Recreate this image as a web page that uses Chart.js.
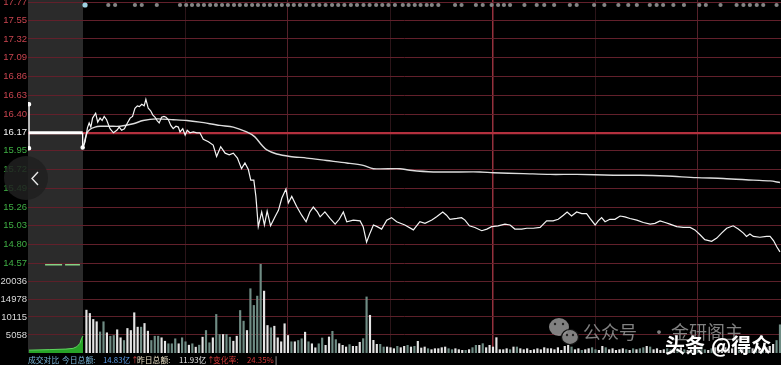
<!DOCTYPE html>
<html><head><meta charset="utf-8">
<script src="https://cdn.jsdelivr.net/npm/chart.js@4.4.0/dist/chart.umd.min.js"></script>
<style>html,body{margin:0;padding:0;background:#000;overflow:hidden}canvas{display:block}</style>
</head><body>
<canvas id="c" width="781" height="365"></canvas>
<script>
// ---------------- data ----------------
const prevClose = 16.17;
const priceTicks = [14.57,14.80,15.03,15.26,15.49,15.72,15.95,16.17,16.40,16.63,16.86,17.09,17.32,17.55,17.77];
const volumeTicks = [5058,10115,14978,20036];
const timeMarks = [30,60,90,120,150,180];           // minutes after 9:30
const auctionEndMinute = 0;

const priceMinutes = [0.1,0.6,1.3,1.8,2.3,2.8,3.7,4.3,5.0,5.6,
6.2,6.9,7.9,8.9,9.9,10.6,11.3,12.1,13.0,13.8,
14.5,15.2,15.9,16.5,17.2,17.9,18.4,19.1,19.8,20.4,
21.1,21.7,22.3,23.0,23.7,24.3,25.0,25.7,26.4,27.2,
27.9,28.4,29.2,29.9,30.5,31.3,32.3,33.3,34.2,
35.2,36.7,38.1,39.1,40.3,41.6,42.8,44.0,45.2,46.4,
47.4,48.4,49.1,50.0,50.6,51.3,52.3,53.1,53.9,54.9,
56.2,57.2,58.2,59.4,60.1,61.1,62.5,64.0,65.3,66.4,
67.4,68.6,69.4,70.8,72.3,73.8,75.0,76.2,77.2,79.1,
81.1,82.0,83.0,84.0,85.0,86.1,87.4,88.9,90.3,91.8,
94.2,96.7,98.6,100.1,102.1,103.5,105.3,106.4,107.4,109.4,
110.8,111.8,113.1,114.7,116.7,118.2,119.6,121.5,123.5,125.0,
126.4,128.4,129.9,131.8,133.8,135.7,137.6,139.1,140.6,141.7,
143.0,144.5,146.0,147.4,
148.4,149.9,150.8,151.8,152.8,154.2,155.7,157.2,158.6,160.1,
162.1,164.0,166.0,167.4,168.9,170.4,171.8,173.8,175.7,177.7,
179.1,180.6,182.0,184.0,185.5,186.9,188.4,190.3,191.8,193.3,
194.2,195.2,196.2,198.1,200.1,201.1,202.1,203.1,204.0];
const priceValues = [16.00,16.06,16.23,16.29,16.24,16.35,16.41,16.30,16.35,16.32,
16.37,16.33,16.22,16.17,16.20,16.24,16.20,16.22,16.29,16.35,
16.37,16.47,16.50,16.49,16.52,16.50,16.58,16.47,16.44,16.39,
16.36,16.32,16.29,16.36,16.37,16.36,16.33,16.26,16.22,16.25,
16.24,16.18,16.22,16.14,16.20,16.17,16.18,16.17,16.17,
16.09,16.06,16.02,15.88,16.00,15.92,15.90,15.92,15.86,15.73,
15.80,15.72,15.59,15.59,15.39,15.02,15.20,15.04,15.21,15.03,
15.14,15.22,15.37,15.48,15.31,15.39,15.27,15.16,15.08,15.20,
15.26,15.20,15.14,15.20,15.12,15.05,15.11,15.20,15.08,15.10,
15.09,15.02,14.83,14.94,15.04,15.02,14.99,15.10,15.13,15.08,
15.04,14.98,15.08,15.06,15.10,15.14,15.20,15.16,15.11,15.12,
15.13,15.10,15.03,15.01,14.97,14.99,15.02,15.03,15.05,15.04,
14.99,14.99,15.00,15.00,15.01,15.09,15.09,15.11,15.16,15.20,
15.15,15.20,15.18,15.18,
15.12,15.04,15.09,15.13,15.08,15.11,15.11,15.15,15.14,15.12,
15.10,15.07,15.05,15.06,15.09,15.07,15.05,15.02,15.01,15.01,
14.98,14.92,14.86,14.84,14.88,14.94,15.00,15.03,14.99,14.94,
14.90,14.93,14.90,14.89,14.90,14.90,14.85,14.77,14.71];

const avgMinutes = [0,1.1,2.0,3.5,5.0,7.9,10.8,14.7,17.6,21.6,
26.4,30.4,34.2,40.1,44.0,47.9,50.3,52.3,53.8,56.7,
60.6,65.5,71.3,77.2,82.0,85.0,92.8,95.7,102.5,116.2,
120.1,128.9,136.7,144.5,155.2,163.0,170.8,179.6,187.4,196.2,
201.1,204.0];
const avgValues = [15.99,16.16,16.21,16.24,16.25,16.25,16.25,16.28,16.32,16.34,
16.33,16.32,16.30,16.26,16.24,16.18,16.12,16.02,15.96,15.91,
15.88,15.86,15.83,15.80,15.77,15.73,15.73,15.71,15.69,15.69,
15.68,15.67,15.66,15.66,15.65,15.65,15.64,15.62,15.61,15.59,
15.58,15.56];

const volumeStartMinute = 1;
const volumeValues = [12000,11080,9400,8750,5900,8750,5660,4700,4900,6500,
4260,3500,6870,6300,11270,7240,7240,8270,6120,3500,
4700,4700,4260,3300,2580,2580,3980,2580,4260,3140,
2190,2580,1630,2190,4430,6300,2860,4260,10800,5190,
5190,5190,4430,3300,4700,11900,8920,6300,18000,13320,
15930,25100,17330,7700,7070,7500,4260,3140,8190,4900,
3140,3140,3500,3980,5830,3140,2580,1460,2580,
4200,2150,4490,6080,3740,2620,2150,1680,2340,1870,
1870,3000,4020,15700,10560,3550,2430,2430,1680,1680,
1500,1210,1870,1500,1870,2150,1680,1870,3270,1400,
1680,1210,935,1210,1210,1500,1680,1210,935,1210,
935,750,750,935,1500,2150,2150,2620,1500,2150,
1680,4300,935,935,1210,935,1680,1680,1210,935,
1210,750,935,1210,935,1500,1210,
1210,935,1500,750,1870,2150,1680,935,1210,750,
935,1210,1500,935,750,1870,1500,935,1210,750,
935,1210,935,750,1210,935,1210,1500,1870,1680,
935,1210,750,935,1210,935,750,1210,1500,935,
750,935,1210,1500,1870,935,750,1210,1500,935,
1210,1500,935,1210,1680,935,1210,1500,935,1210,
1500,1210,935,1500,1870,2430,3500,7900];

// call-auction segment (before 9:30)
const auctionMinutes = [-15.8,-15.8,-15.8,-0.1,-0.1];
const auctionPrices  = [16.52,15.98,16.17,16.17,15.99];
const auctionVolMinutes = [-15.8,-9.7,-5.0,-2.9,-1.8,-0.9,-0.4,0.0];
const auctionVolValues  = [800,950,1100,1300,1760,2700,4100,4760];
const auctionDashMinutes = [-11.1,-0.9];
const auctionDashValues  = [24700,24700];

// event markers along the top strip
const eventMinutes = [0.6,7.4,9.4,15.2,17.2,21.6,
28.4,30.2,31.9,33.7,35.4,37.2,38.9,40.7,42.4,44.2,45.9,47.7,49.5,51.2,53.0,54.7,56.5,58.2,60.0,61.7,63.5,65.3,
67.4,69.2,71.0,72.9,74.7,76.5,78.4,80.2,82.1,83.9,85.8,87.6,89.4,91.3,
93.6,95.3,97.1,98.8,100.6,102.1,104.0,108.9,110.8,115.0,117.0,119.6,121.5,123.2,125.0,129.2,
132.8,135.0,137.9,142.5,144.5,149.6,152.6,156.7,159.6,162.1,165.9,167.9,169.8,172.8,175.9,
180.4,182.3,186.6,191.3,193.3,195.2,197.2,199.1,203.0];

// ---------------- helpers ----------------
const xy = (xs, ys) => xs.map((v,i)=>({x:v, y:ys[i]}));
function priceAt(m){
  let p = priceValues[0];
  for (let i=0;i<priceMinutes.length;i++){ if (priceMinutes[i] <= m) p = priceValues[i]; else break; }
  return p;
}
const volumePoints = volumeValues.map((v,i)=>({x: volumeStartMinute+i, y: v}));
const volumeColors = volumePoints.map(p => priceAt(p.x) >= priceAt(p.x-1) ? '#e4e4e4' : '#6f8c84');

const AXISFONT = "'Liberation Sans',Arial,sans-serif";
const CJK = "'Noto Sans CJK SC','Noto Sans',sans-serif";
const tv = c => (c && c.tick) ? c.tick.value : NaN;

// ---------------- plugins ----------------
const bgPlugin = {
  id:'bg',
  beforeDraw(chart){
    const {ctx, chartArea:a, scales:{x}} = chart;
    ctx.save();
    ctx.fillStyle = '#000';
    ctx.fillRect(0,0,chart.width,chart.height);
    const xe = x.getPixelForValue(auctionEndMinute);
    ctx.fillStyle = '#2b2b2b';
    ctx.fillRect(a.left, a.top, xe - a.left, a.bottom - a.top);
    ctx.restore();
  }
};
const eventPlugin = {
  id:'events',
  afterDatasetsDraw(chart){
    const {ctx, scales:{x}} = chart;
    ctx.save();
    eventMinutes.forEach((m,i)=>{
      const px = x.getPixelForValue(m);
      ctx.beginPath();
      ctx.fillStyle = i===0 ? '#9fd2e2' : '#858585';
      ctx.arc(px, 5, i===0 ? 2.6 : 2.1, 0, Math.PI*2);
      ctx.fill();
    });
    ctx.restore();
  }
};
const overlayPlugin = {
  id:'overlay',
  afterDraw(chart){
    const ctx = chart.ctx;
    ctx.save();
    // side navigation button
    ctx.beginPath();
    ctx.arc(26,178,22,0,Math.PI*2);
    ctx.fillStyle = 'rgba(32,32,32,0.85)';
    ctx.fill();
    ctx.strokeStyle = '#e8e8e8'; ctx.lineWidth = 1.4;
    ctx.beginPath(); ctx.moveTo(38,172); ctx.lineTo(32,178.5); ctx.lineTo(38,185); ctx.stroke();

    // bottom info strip
    ctx.textBaseline = 'middle';
    ctx.font = '7.8px ' + CJK;
    const segs = [
      ['成交对比',28,'#78b4d8'],['今日总额:',62,'#78b4d8'],['14.83亿',103,'#5a9ce8'],['↑',131,'#d04040'],
      ['昨日总额:',137,'#e6dcc0'],['11.93亿',179,'#e8e8e8'],['↑',207,'#d04040'],
      ['变化率:',213,'#d03838'],['24.35%',247,'#d03838'],['|',275,'#e0e0e0']
    ];
    segs.forEach(s=>{ ctx.fillStyle = s[2]; ctx.fillText(s[0], s[1], 360); });

    // watermark
    ctx.fillStyle = 'rgba(150,150,150,0.85)';
    ctx.beginPath(); ctx.ellipse(559,327,10,9,0,0,Math.PI*2); ctx.fill();
    ctx.strokeStyle = '#111'; ctx.lineWidth = 1.2;
    ctx.beginPath(); ctx.ellipse(570,337,8.5,7.5,0,0,Math.PI*2); ctx.fill(); ctx.stroke();
    ctx.fillStyle = '#222';
    [[555,324],[563,324],[567,335],[573,335]].forEach(p=>{ctx.beginPath();ctx.arc(p[0],p[1],1.2,0,Math.PI*2);ctx.fill();});
    ctx.font = '18px ' + CJK;
    ctx.fillStyle = 'rgba(150,150,150,0.85)';
    ctx.fillText('公众号', 583, 332);
    ctx.fillText('·', 650, 332);
    ctx.fillText('金研阁主', 671, 332);
    ctx.font = 'bold 20px ' + CJK;
    ctx.fillStyle = '#ffffff';
    ctx.shadowColor = 'rgba(0,0,0,0.8)'; ctx.shadowBlur = 2;
    ctx.fillText('头条', 665, 345);
    ctx.fillText('@得众', 711, 345);
    ctx.restore();
  }
};

// ---------------- chart ----------------
const gridPrice = v => v === prevClose ? '#b3303e' : '#62202b';
const xGridColor = v => v === 120 ? '#93303c' : (v % 60 === 0 ? '#55212a' : '#2c1519');

new Chart(document.getElementById('c'), {
  type: 'line',
  data: {
    datasets: [
      { label:'均价', data: xy(avgMinutes, avgValues), yAxisID:'yP', borderColor:'#dcdcdc', borderWidth:1.4, pointRadius:0, tension:0.3, order:3 },
      { label:'价格', data: xy(priceMinutes, priceValues), yAxisID:'yP', borderColor:'#f4f4f4', borderWidth:1.2, pointRadius:0, tension:0, order:2 },
      { label:'集合竞价', data: xy(auctionMinutes, auctionPrices), yAxisID:'yP', borderColor:'#ffffff', backgroundColor:'#ffffff',
        pointRadius:[1.6,1.6,0,0,1.6], borderWidth:1.3,
        segment:{ borderWidth: c => c.p0.parsed.y === c.p1.parsed.y ? 3 : 1.3 }, order:1 },
      { label:'竞价量', data: xy(auctionVolMinutes, auctionVolValues), yAxisID:'yV', borderColor:'#5fd45f', backgroundColor:'#27a327',
        fill:'origin', pointRadius:0, borderWidth:1, order:4 },
      { label:'竞价未匹配', data: xy(auctionDashMinutes, auctionDashValues), yAxisID:'yV', borderColor:'#86d286', borderDash:[17,3],
        pointRadius:0, borderWidth:1.4, order:4 },
      { type:'bar', label:'成交量', data: volumePoints, yAxisID:'yV', backgroundColor: volumeColors, barThickness:1.5, grouped:false, order:5 }
    ]
  },
  options: {
    responsive:false, animation:false, devicePixelRatio:1,
    layout:{ autoPadding:false, padding:{ top:0, left:0, right:0, bottom:12 } },
    plugins:{ legend:{display:false}, tooltip:{enabled:false} },
    scales:{
      x:{ type:'linear', min:-16.1, max:204.3, offset:false,
        border:{display:false},
        ticks:{display:false},
        grid:{ offset:false, drawTicks:false, color: c => xGridColor(tv(c)), lineWidth: c => tv(c) === 120 ? 1.5 : 1 },
        afterBuildTicks: s => { s.ticks = timeMarks.map(v=>({value:v})); },
        afterFit: s => { s.height = 0; s.paddingLeft = 0; s.paddingRight = 0; }
      },
      yP:{ position:'left', stack:'left', stackWeight:264, weight:1, min:14.562, max:17.797,
        border:{display:false},
        grid:{ drawTicks:false, color: c => gridPrice(tv(c)), lineWidth: c => tv(c) === prevClose ? 2.2 : 1 },
        ticks:{ autoSkip:false, padding:1, font:{family:AXISFONT, size:9.5},
          color: c => tv(c) > prevClose ? '#c8444f' : (tv(c) < prevClose ? '#3fae44' : '#f2f2f2'),
          callback: v => Number(v).toFixed(2) },
        afterBuildTicks: s => { s.ticks = priceTicks.map(v=>({value:v})); },
        afterFit: s => { s.width = 28; s.paddingTop = 0; s.paddingBottom = 0; }
      },
      yV:{ position:'left', stack:'left', stackWeight:89, weight:0, min:0, max:24920,
        border:{display:false},
        grid:{ drawTicks:false, color:'#5c2029', lineWidth:1 },
        ticks:{ autoSkip:false, padding:1, font:{family:AXISFONT, size:9.5}, color:'#dadada',
          callback: v => String(v) },
        afterBuildTicks: s => { s.ticks = volumeTicks.map(v=>({value:v})); },
        afterFit: s => { s.width = 28; s.paddingTop = 0; s.paddingBottom = 0; }
      }
    }
  },
  plugins:[bgPlugin, eventPlugin, overlayPlugin]
});
</script>
</body></html>
